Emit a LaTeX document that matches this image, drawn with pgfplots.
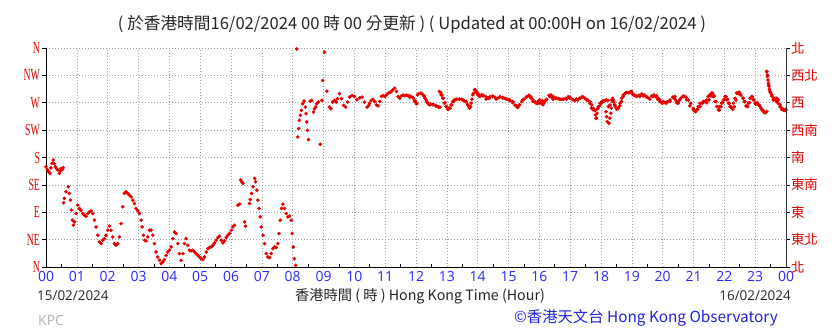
\documentclass[border=0pt]{standalone}
\usepackage{fontspec}
\usepackage{graphicx}
\usepackage{pgfplots}
\usepackage{pgfplotstable}
\pgfplotsset{compat=1.18}
\setmainfont{Open Sans}
\newfontfamily\cjk{Noto Sans CJK TC}
\newfontfamily\serifl{Liberation Serif}
\definecolor{dotred}{RGB}{230,0,0}
\definecolor{labred}{RGB}{225,0,0}
\definecolor{tickblue}{RGB}{40,40,255}
\definecolor{hkoblue}{RGB}{35,35,220}
\newcommand{\yl}[1]{\scalebox{0.58}[1]{#1}}

\pgfplotstableread{
h d
0.000 164.9
0.043 160.0
0.087 156.6
0.130 153.9
0.160 163.0
0.195 170.4
0.238 175.9
0.270 170.0
0.303 164.9
0.340 162.0
0.379 159.4
0.433 153.9
0.460 158.0
0.487 162.1
0.525 160.0
0.563 163.2
0.574 105.5
0.595 112.7
0.649 123.7
0.725 131.9
0.758 120.9
0.790 109.9
0.823 93.4
0.855 76.9
0.887 68.7
0.931 74.2
0.974 87.9
1.028 101.7
1.082 96.2
1.136 93.4
1.190 87.9
1.245 85.2
1.299 83.5
1.353 87.9
1.407 90.7
1.461 92.3
1.515 87.9
1.569 76.9
1.623 65.9
1.677 52.2
1.732 41.2
1.786 38.5
1.840 44.0
1.894 46.7
1.948 52.2
2.002 60.5
2.056 67.1
2.110 60.5
2.165 49.5
2.219 38.5
2.273 35.7
2.327 38.5
2.381 49.5
2.435 71.4
2.489 98.9
2.543 120.9
2.597 123.7
2.652 120.9
2.706 118.2
2.760 115.4
2.814 109.9
2.868 104.4
2.922 96.2
2.976 92.3
3.030 87.9
3.085 76.9
3.117 65.9
3.160 52.2
3.203 44.0
3.247 42.9
3.301 49.5
3.355 60.5
3.409 60.5
3.463 52.2
3.517 38.5
3.571 24.7
3.626 16.5
3.680 11.0
3.734 5.5
3.788 8.2
3.842 12.1
3.896 19.2
3.950 24.7
4.004 27.5
4.058 33.0
4.113 46.7
4.167 57.7
4.221 55.0
4.275 38.5
4.329 22.0
4.383 11.0
4.437 22.0
4.491 38.5
4.545 46.7
4.600 35.7
4.654 27.5
4.708 26.4
4.762 27.5
4.816 24.7
4.870 22.0
4.924 19.2
4.978 16.5
5.032 13.7
5.087 12.1
5.141 16.5
5.195 24.7
5.249 30.2
5.303 31.9
5.357 33.0
5.411 35.7
5.465 39.6
5.519 44.0
5.574 48.4
5.628 50.6
5.682 44.0
5.736 39.6
5.790 42.9
5.844 48.4
5.898 52.2
5.952 55.0
6.006 60.5
6.061 65.9
6.115 68.7
6.223 101.7
6.277 103.3
6.310 142.9
6.353 140.1
6.385 137.4
6.439 74.2
6.472 67.1
6.602 104.4
6.623 111.0
6.667 120.9
6.710 131.9
6.764 145.6
6.797 140.1
6.840 126.4
6.872 109.9
6.905 96.2
6.948 82.4
6.981 65.9
7.035 52.2
7.089 38.5
7.143 22.0
7.197 16.5
7.251 15.4
7.305 22.0
7.359 30.2
7.413 33.0
7.468 31.9
7.522 38.5
7.554 55.0
7.597 76.9
7.641 96.2
7.684 103.3
7.738 96.2
7.792 87.9
7.846 82.4
7.900 83.5
7.955 76.9
7.987 55.0
8.019 33.0
8.052 13.7
8.095 2.7
8.130 358.4
8.163 213.8
8.196 227.5
8.217 241.1
8.250 249.3
8.283 257.5
8.326 268.4
8.370 272.8
8.413 262.9
8.435 252.0
8.457 238.4
8.478 224.7
8.511 209.5
8.565 272.8
8.620 273.8
8.674 254.7
8.707 260.2
8.750 262.9
8.783 268.4
8.837 271.1
8.891 201.8
8.946 273.8
8.978 306.6
9.033 352.9
9.109 289.1
9.196 262.9
9.239 260.2
9.293 271.1
9.359 273.8
9.413 271.1
9.457 276.6
9.522 284.8
9.587 276.6
9.652 265.7
9.717 262.9
9.783 271.1
9.848 279.3
9.924 282.0
10.000 280.4
10.087 274.9
10.174 278.2
10.250 279.3
10.326 271.1
10.413 262.9
10.467 265.7
10.498 269.3
10.552 273.7
10.606 275.9
10.660 272.1
10.714 266.6
10.768 264.9
10.823 272.1
10.877 280.3
10.931 281.4
10.985 280.3
11.039 283.0
11.093 285.8
11.147 286.9
11.201 288.5
11.255 291.3
11.310 294.0
11.364 288.5
11.418 280.3
11.472 277.5
11.526 281.4
11.580 282.5
11.634 281.4
11.688 282.5
11.742 281.4
11.797 279.2
11.905 277.5
11.959 272.1
12.013 268.2
12.054 283.0
12.163 285.8
12.271 280.3
12.325 274.8
12.379 269.3
12.433 266.6
12.542 266.6
12.650 264.9
12.737 262.7
12.758 288.5
12.813 283.0
12.867 277.5
12.921 269.3
12.975 263.8
13.029 259.4
13.083 261.1
13.138 266.6
13.192 272.1
13.246 274.8
13.300 275.9
13.408 275.9
13.517 274.8
13.625 272.1
13.679 266.6
13.733 261.1
13.788 269.3
13.842 283.0
13.896 291.3
13.950 286.9
14.004 283.0
14.059 280.3
14.167 281.4
14.275 275.9
14.384 277.5
14.492 280.3
14.600 275.9
14.709 279.2
14.817 277.5
14.925 275.9
15.034 274.8
15.142 272.1
15.250 264.9
15.304 262.7
15.359 266.6
15.467 274.8
15.575 279.2
15.684 280.3
15.738 277.5
15.792 272.1
15.900 269.3
15.955 272.1
16.009 274.8
16.063 269.3
16.117 266.6
16.171 272.1
16.225 274.8
16.334 280.3
16.388 279.2
16.442 275.9
16.550 277.5
16.659 275.9
16.767 275.9
16.875 275.9
16.984 277.5
17.092 274.8
17.200 275.9
17.309 277.5
17.417 279.2
17.525 274.8
17.634 269.3
17.688 261.1
17.742 258.3
17.796 257.2
17.818 250.1
17.851 244.6
17.872 252.8
17.905 261.1
17.959 264.9
18.013 269.3
18.067 272.1
18.176 274.8
18.230 273.7
18.262 236.3
18.284 244.6
18.316 252.8
18.338 261.1
18.371 272.1
18.392 274.8
18.446 266.6
18.501 261.1
18.555 261.1
18.609 264.9
18.663 272.1
18.717 280.3
18.771 284.7
18.826 286.9
18.934 286.9
18.988 288.5
19.042 283.0
19.151 280.3
19.259 280.3
19.367 281.4
19.476 279.2
19.584 275.9
19.692 280.3
19.801 281.4
19.855 277.5
19.909 274.8
20.017 272.1
20.126 269.3
20.234 272.1
20.342 279.2
20.397 280.3
20.451 272.1
20.505 269.3
20.559 274.8
20.667 280.3
20.722 280.3
20.776 274.8
20.884 264.9
20.993 258.3
21.047 255.6
21.101 258.3
21.155 263.8
21.209 269.3
21.318 272.1
21.426 274.8
21.480 280.3
21.534 283.0
21.588 285.8
21.642 280.3
21.697 272.1
21.751 263.8
21.805 258.3
21.859 263.8
21.913 269.3
21.967 274.8
22.022 280.3
22.076 274.8
22.130 269.3
22.184 263.8
22.238 262.7
22.293 269.3
22.347 277.5
22.401 285.8
22.455 286.9
22.509 283.0
22.618 277.5
22.672 272.1
22.726 264.9
22.780 269.3
22.834 277.5
22.888 280.3
22.943 274.8
22.997 269.3
23.051 268.2
23.105 266.6
23.159 263.8
23.213 258.3
23.268 255.6
23.322 253.9
23.376 255.6
23.380 321.5
23.397 313.3
23.430 302.3
23.452 296.8
23.484 288.5
23.538 283.0
23.593 277.5
23.647 274.8
23.701 277.5
23.755 274.8
23.809 266.6
23.863 261.1
23.918 258.3
23.972 257.2
24.000 258.3
}\winddata

\pgfplotstableread{
h d
11.806 281.1
11.892 278.9
11.968 273.4
12.022 269.0
12.076 284.4
12.151 285.5
12.238 282.7
12.292 277.3
12.346 271.8
12.400 269.0
12.476 267.9
12.562 267.4
12.649 264.7
12.724 263.6
12.778 262.5
12.800 286.6
12.843 282.7
12.887 277.3
12.941 270.1
12.995 263.6
13.049 259.2
13.103 260.8
13.157 266.3
13.211 271.8
13.265 274.5
13.319 275.6
13.405 275.6
13.481 275.6
13.557 273.4
13.622 271.2
13.676 266.3
13.730 262.5
13.773 263.6
13.816 275.6
13.860 285.5
13.914 291.0
13.968 288.2
14.022 284.4
14.076 281.1
14.130 283.3
14.184 282.2
14.271 280.0
14.346 277.8
14.400 280.0
14.487 281.1
14.562 278.9
14.638 277.3
14.724 280.0
14.811 278.9
14.887 277.3
14.962 275.6
15.049 273.4
15.135 270.1
15.211 266.3
15.287 262.5
15.351 266.3
15.427 271.8
15.503 275.6
15.589 280.0
15.665 282.2
15.719 280.0
15.784 275.6
15.860 271.8
15.935 269.0
16.000 273.4
15.946 269.0
16.022 270.1
16.098 273.4
16.162 270.1
16.238 275.6
16.314 282.2
16.379 282.7
16.454 280.0
16.530 277.3
16.617 276.7
16.703 275.6
16.779 275.6
16.854 277.3
16.941 280.0
16.995 278.9
17.071 275.6
17.157 273.4
17.244 274.5
17.319 277.3
17.395 280.0
17.481 277.3
17.568 274.5
17.643 271.8
17.697 266.3
17.751 260.8
17.806 257.5
17.838 244.4
17.870 259.2
17.914 263.6
17.968 269.0
18.022 271.8
18.076 273.4
18.130 273.4
18.162 255.3
18.184 247.1
18.206 238.9
18.238 263.6
18.292 266.3
18.346 274.5
18.378 277.3
18.411 271.2
18.454 264.7
18.508 259.2
18.562 260.8
18.616 269.0
18.670 277.3
18.724 282.7
18.800 285.5
18.886 286.6
18.962 288.2
19.016 285.5
19.081 282.7
19.157 281.1
19.232 282.2
19.319 284.4
19.405 282.7
19.481 280.0
19.557 277.3
19.643 281.1
19.719 282.7
19.773 280.0
19.838 275.6
19.914 271.8
19.989 269.0
20.000 270.7
20.076 270.1
20.151 271.8
20.238 274.5
20.324 278.9
20.400 275.6
20.454 270.1
20.508 271.8
20.584 277.3
20.670 281.1
20.757 278.9
20.832 274.5
20.908 269.0
20.995 260.8
21.070 255.3
21.135 259.2
21.211 263.6
21.287 269.0
21.351 271.8
21.427 270.1
21.503 274.5
21.568 281.1
21.622 285.5
21.676 281.1
21.730 271.8
21.795 263.6
21.838 258.1
21.892 263.6
21.946 270.1
22.000 275.6
22.054 280.0
22.108 275.6
22.162 269.0
22.216 262.5
22.270 259.2
22.324 263.6
22.378 274.5
22.433 285.5
22.487 287.1
22.541 282.7
22.595 277.3
22.649 271.8
22.703 264.7
22.757 263.6
22.811 270.1
22.854 277.3
22.908 280.0
22.962 274.5
23.016 267.9
23.070 270.1
23.124 266.3
23.189 260.8
23.243 258.1
23.297 254.2
23.341 253.7
23.373 321.1
23.395 315.6
23.416 307.4
23.438 299.2
23.460 292.1
23.492 286.6
23.535 281.1
23.589 274.5
23.643 277.3
23.697 271.8
23.751 269.0
23.805 263.6
23.859 259.2
23.913 258.1
23.989 259.2
}\winddatab

\begin{document}
\begin{tikzpicture}[x=1bp,y=1bp]
\useasboundingbox (-46,-64) rectangle (792,267);
\begin{axis}[
  at={(0,0)}, anchor=south west,
  scale only axis, width=740bp, height=219bp,
  xmin=0, xmax=24, ymin=0, ymax=360,
  axis x line*=bottom, axis y line*=left,
  axis line style={-, black, line width=0.8pt},
  xtick={0,1,...,24},
  xticklabels={00,01,02,03,04,05,06,07,08,09,10,11,12,13,14,15,16,17,18,19,20,21,22,23,00},
  minor x tick num=1,
  ytick={0,45,...,360},
  yticklabels={\yl{N},\yl{NE},\yl{E},\yl{SE},\yl{S},\yl{SW},\yl{W},\yl{NW},\yl{N}},
  grid=major,
  grid style={gray!75, line width=0.6pt, dash pattern=on 1.3bp off 1.7bp},
  tick align=outside,
  major tick length=3.5bp,
  minor tick length=3bp,
  major x tick style={draw=none},
  minor x tick style={black, line width=0.6pt, yshift=3bp},
  y tick style={black, line width=0.6pt},
  xticklabel style={font=\fontsize{14}{15}\selectfont, text=tickblue, yshift=2.5bp},
  yticklabel style={font=\serifl\fontsize{17}{17}\selectfont, text=labred, xshift=1bp},
  clip=false,
]
\addplot[only marks, mark=*, mark size=1.6bp, color=dotred] table[x=h, y=d] {\winddata};
\addplot[only marks, mark=*, mark size=1.6bp, color=dotred] table[x=h, y=d] {\winddatab};
\end{axis}
\begin{axis}[
  at={(0,0)}, anchor=south west,
  scale only axis, width=740bp, height=219bp,
  xmin=0, xmax=24, ymin=0, ymax=360,
  axis x line=none, axis y line*=right,
  axis line style={-, black!80, line width=0.8pt},
  ytick={0,45,...,360},
  yticklabels={北,東北,東,東南,南,西南,西,西北,北},
  tick align=outside,
  major tick length=3.5bp,
  y tick style={black, line width=0.6pt},
  yticklabel style={font=\cjk\fontsize{13.5}{14}\selectfont, text=labred, xshift=-2bp},
]
\addplot[draw=none] coordinates {(0,0)};
\end{axis}
\node[font=\cjk\fontsize{16.7}{18}\selectfont, text=black!85] at (366,243) {( 於香港時間16/02/2024 00 時 00 分更新 ) ( Updated at 00:00H on 16/02/2024 )};
\node[anchor=west, font=\fontsize{13.5}{15}\selectfont, text=black!85, inner sep=0pt] at (-9,-29) {15/02/2024};
\node[font=\cjk\fontsize{14.3}{15}\selectfont, text=black!85, inner sep=0pt] at (374,-29) {香港時間 ( 時 ) Hong Kong Time (Hour)};
\node[anchor=east, font=\fontsize{13.5}{15}\selectfont, text=black!85, inner sep=0pt] at (745,-29) {16/02/2024};
\node[anchor=west, font=\fontsize{14}{15}\selectfont, text=black!30, inner sep=0pt] at (-8,-54) {KPC};
\node[font=\cjk\fontsize{15.4}{16}\selectfont, text=hkoblue, inner sep=0pt] at (600,-51) {©香港天文台 Hong Kong Observatory};
\end{tikzpicture}
\end{document}
